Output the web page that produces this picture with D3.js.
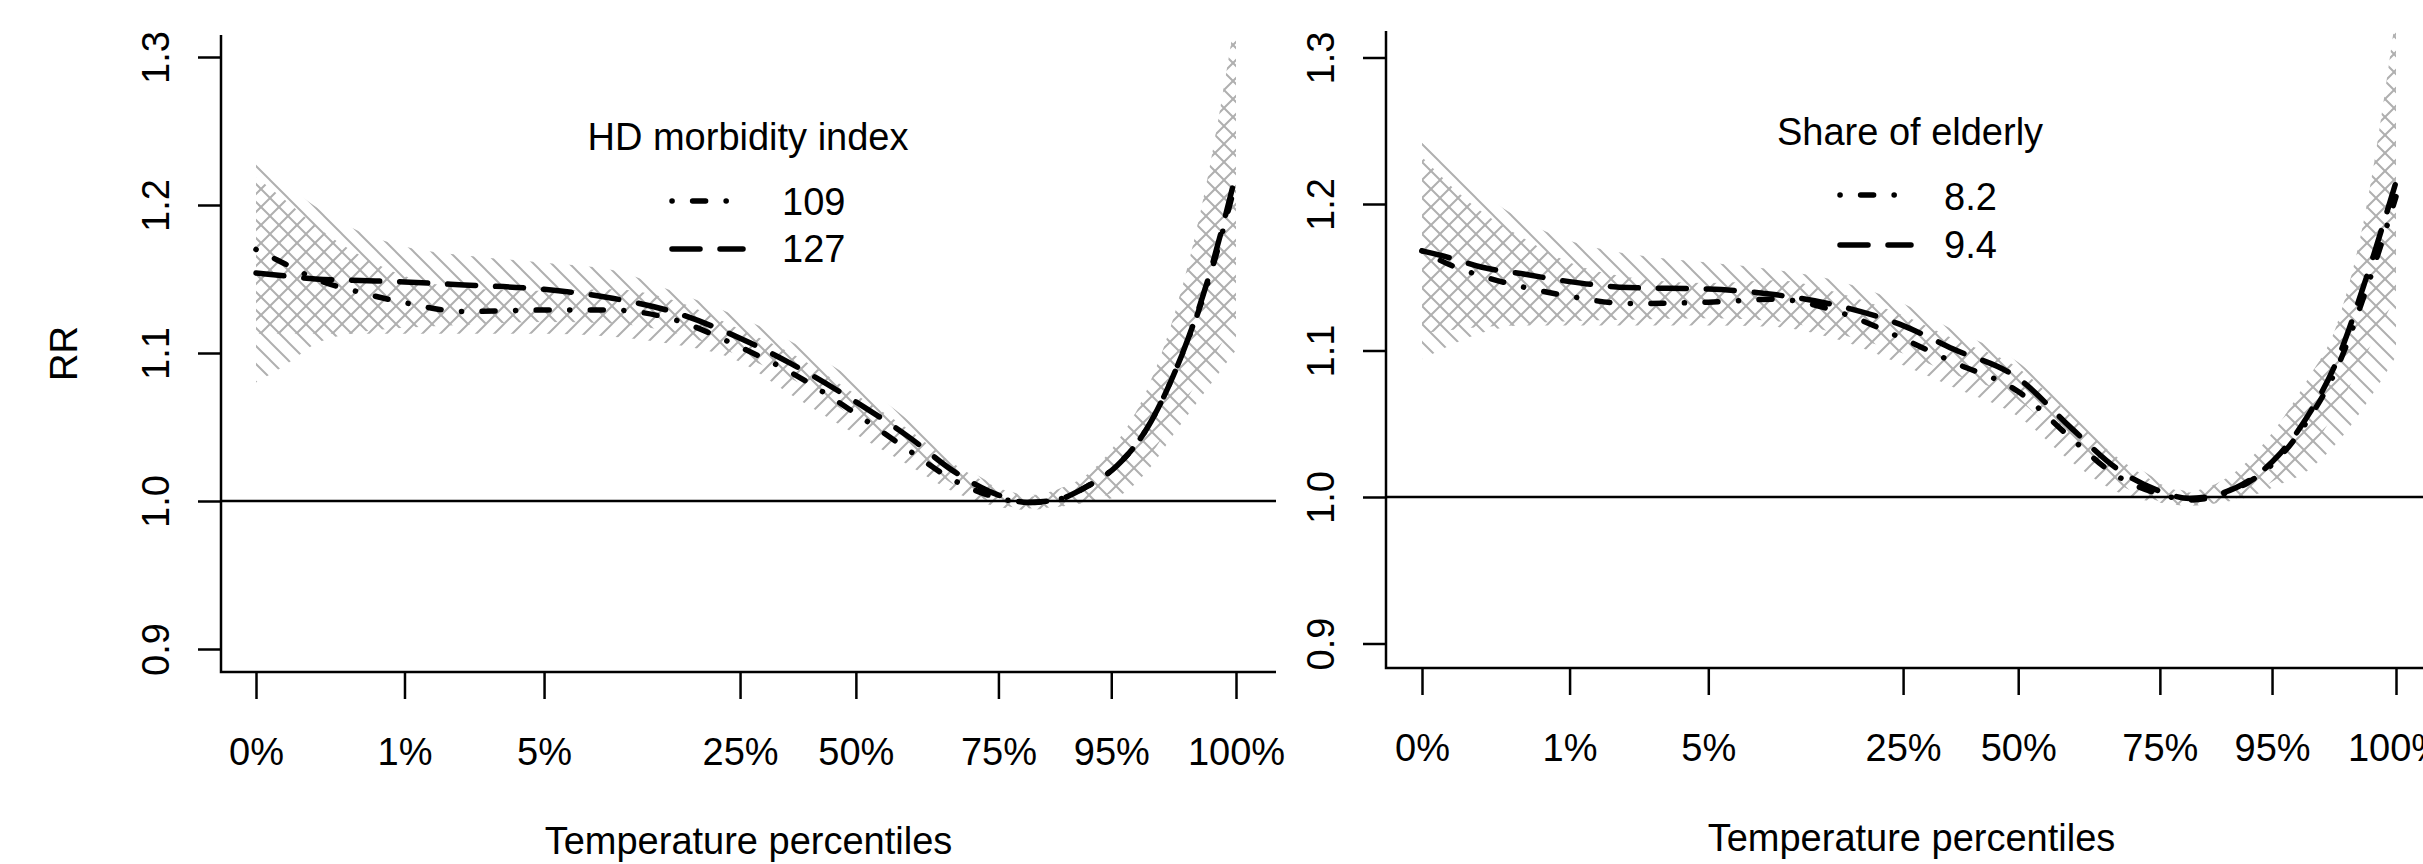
<!DOCTYPE html>
<html><head><meta charset="utf-8">
<script src="https://cdn.jsdelivr.net/npm/d3@7"></script>
<style>body{margin:0;background:#fff}svg{display:block}</style>
</head><body>
<svg id="c" width="2423" height="864"></svg>
<script>
// ---- data ----
const temps = [-2, -1, 0, 1.5, 3, 5, 7.7, 10, 12, 14.3, 16, 18.2, 20, 21.5, 23, 24, 25, 26, 27, 28, 29, 30, 31];
const tickTemps = [-2, 3, 7.7, 14.3, 18.2, 23, 26.8, 31];
const tickLabels = ["0%", "1%", "5%", "25%", "50%", "75%", "95%", "100%"];
const yTicks = [0.9, 1.0, 1.1, 1.2, 1.3];

// Left panel: HD morbidity index
const hd109 = [1.170, 1.160, 1.150, 1.141, 1.134, 1.128, 1.129, 1.129, 1.123, 1.104, 1.087, 1.059, 1.034, 1.014, 1.002, 0.999, 1.001, 1.010, 1.024, 1.049, 1.090, 1.144, 1.216];
const hd127 = [1.154, 1.152, 1.150, 1.149, 1.148, 1.146, 1.143, 1.137, 1.128, 1.110, 1.093, 1.067, 1.043, 1.020, 1.004, 0.999, 1.001, 1.010, 1.024, 1.049, 1.090, 1.146, 1.221];
const hd109Lo = [1.113, 1.113, 1.113, 1.113, 1.113, 1.113, 1.113, 1.111, 1.106, 1.094, 1.072, 1.045, 1.024, 1.006, 0.996, 0.994, 0.996, 1.000, 1.008, 1.028, 1.058, 1.090, 1.122];
const hd109Hi = [1.219, 1.203, 1.186, 1.166, 1.152, 1.144, 1.142, 1.143, 1.136, 1.116, 1.100, 1.072, 1.048, 1.025, 1.009, 1.003, 1.008, 1.018, 1.040, 1.075, 1.131, 1.214, 1.330];
const hd127Lo = [1.080, 1.092, 1.106, 1.114, 1.117, 1.119, 1.121, 1.120, 1.114, 1.098, 1.083, 1.056, 1.033, 1.011, 0.998, 0.995, 0.996, 0.999, 1.003, 1.020, 1.048, 1.075, 1.102];
const hd127Hi = [1.229, 1.214, 1.199, 1.182, 1.172, 1.166, 1.161, 1.156, 1.142, 1.124, 1.108, 1.081, 1.054, 1.028, 1.010, 1.004, 1.008, 1.018, 1.040, 1.075, 1.131, 1.214, 1.330];

// Right panel: Share of elderly
const eld82 = [1.168, 1.158, 1.151, 1.143, 1.137, 1.132, 1.133, 1.135, 1.127, 1.108, 1.092, 1.072, 1.040, 1.015, 1.002, 0.998, 1.001, 1.010, 1.026, 1.052, 1.088, 1.142, 1.205];
const eld94 = [1.168, 1.163, 1.157, 1.152, 1.147, 1.143, 1.142, 1.138, 1.131, 1.117, 1.101, 1.081, 1.047, 1.020, 1.004, 0.999, 1.002, 1.011, 1.028, 1.055, 1.093, 1.150, 1.215];
const eld82Lo = [1.112, 1.114, 1.116, 1.117, 1.117, 1.117, 1.117, 1.116, 1.108, 1.090, 1.075, 1.055, 1.024, 1.004, 0.996, 0.994, 0.996, 1.002, 1.013, 1.030, 1.060, 1.098, 1.137];
const eld82Hi = [1.232, 1.212, 1.195, 1.176, 1.160, 1.150, 1.146, 1.148, 1.140, 1.124, 1.108, 1.088, 1.055, 1.028, 1.009, 1.003, 1.010, 1.025, 1.049, 1.080, 1.118, 1.198, 1.330];
const eld94Lo = [1.094, 1.104, 1.112, 1.118, 1.120, 1.121, 1.122, 1.120, 1.112, 1.098, 1.084, 1.066, 1.034, 1.010, 0.997, 0.994, 0.996, 1.000, 1.008, 1.018, 1.037, 1.064, 1.096];
const eld94Hi = [1.242, 1.225, 1.208, 1.188, 1.175, 1.166, 1.160, 1.155, 1.148, 1.132, 1.114, 1.092, 1.058, 1.032, 1.011, 1.004, 1.010, 1.025, 1.049, 1.080, 1.118, 1.198, 1.330];

// ---- drawing ----
const FONT = "'Liberation Sans', Arial, Helvetica, sans-serif";
const FS = 38;
const svg = d3.select("#c");
const defs = svg.append("defs");

function hatch(id, up) {
  const s = 18;
  const p = defs.append("pattern").attr("id", id).attr("patternUnits", "userSpaceOnUse")
    .attr("width", s).attr("height", s);
  const d = up
    ? `M0,${s} L${s},0 M${-s/4},${s/4} L${s/4},${-s/4} M${3*s/4},${5*s/4} L${5*s/4},${3*s/4}`
    : `M0,0 L${s},${s} M${-s/4},${3*s/4} L${s/4},${5*s/4} M${3*s/4},${-s/4} L${5*s/4},${s/4}`;
  p.append("path").attr("d", d).attr("stroke", "#b0b0b0").attr("stroke-width", 2).attr("fill", "none");
}
hatch("hUp", true);
hatch("hDown", false);

const DOTDASH = "0.1,20.5,13,20.5";
const LONGDASH = "28,20";

const panels = [
  {
    box: {l: 221, r: 1276, t: 35, b: 672}, xr: [256, 1236], yr: [649, 57],
    ylab: "RR", title: "HD morbidity index",
    series: [
      {name: "109", v: hd109, lo: hd109Lo, hi: hd109Hi, dash: DOTDASH, fill: "url(#hUp)"},
      {name: "127", v: hd127, lo: hd127Lo, hi: hd127Hi, dash: LONGDASH, fill: "url(#hDown)"}
    ],
    leg: {cx: 748, titleY: 150, sx: [672, 743], rowY: [201, 249], textX: 782, textY: [215, 262]},
    xlabY: 854, tickLabY: 765
  },
  {
    box: {l: 1386, r: 2437, t: 31, b: 668}, xr: [1422, 2396], yr: [643.5, 57.5],
    ylab: null, title: "Share of elderly",
    series: [
      {name: "8.2", v: eld82, lo: eld82Lo, hi: eld82Hi, dash: DOTDASH, fill: "url(#hUp)"},
      {name: "9.4", v: eld94, lo: eld94Lo, hi: eld94Hi, dash: LONGDASH, fill: "url(#hDown)"}
    ],
    leg: {cx: 1910, titleY: 145, sx: [1840, 1911], rowY: [195, 245], textX: 1944, textY: [210, 258]},
    xlabY: 851, tickLabY: 761
  }
];

panels.forEach((P, pi) => {
  const x = d3.scaleLinear().domain([tickTemps[0], tickTemps[tickTemps.length - 1]]).range(P.xr);
  const y = d3.scaleLinear().domain([0.9, 1.3]).range(P.yr);
  const B = P.box;
  const g = svg.append("g");

  const clipId = "clip" + pi;
  defs.append("clipPath").attr("id", clipId).append("rect")
    .attr("x", B.l).attr("y", B.t).attr("width", B.r - B.l).attr("height", B.b - B.t);
  const plot = g.append("g").attr("clip-path", `url(#${clipId})`);

  // confidence bands (hatched)
  P.series.forEach(s => {
    const pts = temps.map((t, i) => ({t, lo: s.lo[i], hi: s.hi[i]}));
    const area = d3.area().x(d => x(d.t)).y0(d => y(d.lo)).y1(d => y(d.hi)).curve(d3.curveMonotoneX);
    plot.append("path").attr("d", area(pts)).attr("fill", s.fill).attr("stroke", "none");
  });

  // reference line at RR = 1
  plot.append("line").attr("x1", B.l).attr("x2", B.r).attr("y1", y(1)).attr("y2", y(1))
    .attr("stroke", "#000").attr("stroke-width", 2.5);

  // curves
  P.series.forEach(s => {
    const pts = temps.map((t, i) => ({t, v: s.v[i]}));
    const line = d3.line().x(d => x(d.t)).y(d => y(d.v)).curve(d3.curveMonotoneX);
    plot.append("path").attr("d", line(pts)).attr("fill", "none").attr("stroke", "#000")
      .attr("stroke-width", 5.5).attr("stroke-dasharray", s.dash).attr("stroke-linecap", "round");
  });

  // L-shaped box
  g.append("path").attr("d", `M${B.l},${B.t} L${B.l},${B.b} L${B.r},${B.b}`)
    .attr("fill", "none").attr("stroke", "#000").attr("stroke-width", 2.5);

  // x axis
  const xa = d3.axisBottom(x).tickValues(tickTemps).tickFormat((d, i) => tickLabels[i])
    .tickSize(27).tickPadding(P.tickLabY - B.b - 27 - 0.71 * FS);
  const gx = g.append("g").attr("transform", `translate(0,${B.b})`).call(xa);
  gx.select(".domain").remove();
  gx.selectAll("line").attr("stroke", "#000").attr("stroke-width", 2.5);
  gx.selectAll("text").attr("font-family", FONT).attr("font-size", FS).attr("fill", "#000");

  // y axis
  const ya = d3.axisLeft(y).tickValues(yTicks).tickFormat(d3.format(".1f")).tickSize(23);
  const gy = g.append("g").attr("transform", `translate(${B.l},0)`).call(ya);
  gy.select(".domain").remove();
  gy.selectAll("line").attr("stroke", "#000").attr("stroke-width", 2.5);
  gy.selectAll("text").attr("x", null).attr("dy", null).attr("text-anchor", "middle")
    .attr("transform", "translate(-52,0) rotate(-90)")
    .attr("font-family", FONT).attr("font-size", FS).attr("fill", "#000");

  // axis titles
  g.append("text").attr("x", (B.l + B.r) / 2).attr("y", P.xlabY).attr("text-anchor", "middle")
    .attr("font-family", FONT).attr("font-size", FS).attr("fill", "#000").text("Temperature percentiles");
  if (P.ylab) {
    g.append("text").attr("transform", `translate(77,${(B.t + B.b) / 2}) rotate(-90)`)
      .attr("text-anchor", "middle").attr("font-family", FONT).attr("font-size", FS)
      .attr("fill", "#000").text(P.ylab);
  }

  // legend
  const L = P.leg;
  g.append("text").attr("x", L.cx).attr("y", L.titleY).attr("text-anchor", "middle")
    .attr("font-family", FONT).attr("font-size", FS).attr("fill", "#000").text(P.title);
  P.series.forEach((s, i) => {
    g.append("line").attr("x1", L.sx[0]).attr("x2", L.sx[1]).attr("y1", L.rowY[i]).attr("y2", L.rowY[i])
      .attr("stroke", "#000").attr("stroke-width", 5.5).attr("stroke-dasharray", s.dash)
      .attr("stroke-linecap", "round");
    g.append("text").attr("x", L.textX).attr("y", L.textY[i]).attr("font-family", FONT)
      .attr("font-size", FS).attr("fill", "#000").text(s.name);
  });
});
</script>
</body></html>
